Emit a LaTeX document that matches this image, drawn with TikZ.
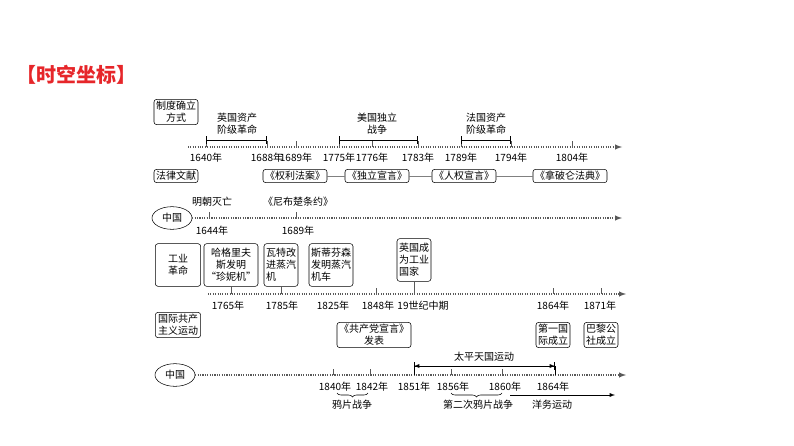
\documentclass[tikz,border=0pt]{standalone}
\usepackage{fontspec}
\setmainfont{Noto Sans CJK SC}
\usetikzlibrary{arrows,calc,decorations.pathreplacing,shapes}

\definecolor{titlered}{RGB}{230,38,42}
\tikzset{
  lbox/.style={draw, rounded corners=2pt, align=center, inner sep=1.5pt, font=\fontsize{7.5}{9}\selectfont},
  txt/.style={align=center, inner sep=0pt, font=\fontsize{7.5}{9}\selectfont},
  yr/.style={inner sep=0pt, font=\fontsize{7.5}{9}\selectfont},
  tline/.style={densely dotted, thick, gray!70!black, -latex},
  tick/.style={gray!70!black}
}

\begin{document}
\begin{tikzpicture}[x=0.75pt, y=-0.75pt]
  \useasboundingbox (0,0) rectangle (794,446);
  \node[anchor=west, text=titlered, font=\bfseries\fontsize{15}{18}\selectfont] (title) at (12,75) {【时空坐标】};

  %% first block
  \node[lbox, minimum width=32pt] (zd) at (176,112) {制度确立\\方式};
  \coordinate (l1s) at (188,147); \coordinate (l1e) at (622,147);
  \draw[tline] (l1s) -- (l1e);
  \foreach \x/\y in {206/1640,267/1688,296/1689,339/1775,372/1776,418/1783,461/1789,511/1794,572/1804}
  {
    \coordinate (t\y) at (\x,147);
    \draw[tick] (t\y) -- ++(0,-6);
    \node[yr] (y\y) at (\x,158) {\y 年};
  }
  \draw[|-|] ($(t1640)+(0,-7)$) -- ($(t1688)+(0,-7)$);
  \draw[|-|] ($(t1775)+(0,-7)$) -- ($(t1783)+(0,-7)$);
  \draw[|-|] ($(t1789)+(0,-7)$) -- ($(t1794)+(0,-7)$);
  \node[txt] (yg) at (237,124) {英国资产\\阶级革命};
  \node[txt] (mg) at (377,124) {美国独立\\战争};
  \node[txt] (fg) at (486,124) {法国资产\\阶级革命};

  \node[lbox, minimum width=32pt] (fl) at (176,176) {法律文献};
  \node[lbox] (ql) at (295,176) {《权利法案》};
  \node[lbox] (dl) at (377,176) {《独立宣言》};
  \node[lbox] (rq) at (464,176) {《人权宣言》};
  \node[lbox] (np) at (570,176) {《拿破仑法典》};
  \draw[gray] (ql) -- (dl) (dl) -- (rq) (rq) -- (np);

  \node[draw, ellipse, minimum width=30pt, minimum height=17pt, inner sep=0pt, font=\fontsize{7.5}{9}\selectfont] (zg1) at (172,218) {中国};
  \draw[tline] (zg1) -- (622,218);
  \coordinate (m1644) at (209,218); \coordinate (m1689) at (296,218);
  \draw[tick] (m1644) -- ++(0,-6) (m1689) -- ++(0,-6);
  \node[txt] (mm) at (212,202) {明朝灭亡};
  \node[txt] (nb) at (298,202) {《尼布楚条约》};
  \node[yr] (c1644) at (212,231) {1644年};
  \node[yr] (c1689) at (298,231) {1689年};

  %% second block
  \node[lbox, minimum width=34pt, minimum height=32pt] (gy) at (178,265) {工业\\革命};
  \node[lbox, minimum height=32pt] (jn) at (231,265) {哈格里夫\\斯发明\\“珍妮机”};
  \node[lbox, minimum height=32pt] (wt) at (281,265) {瓦特改\\进蒸汽\\机\hphantom{汽汽}};
  \node[lbox, minimum height=32pt] (sd) at (331,265) {斯蒂芬森\\发明蒸汽\\机车\hphantom{汽汽}};
  \node[lbox, minimum height=32pt] (yc) at (414,260) {英国成\\为工业\\国家\hphantom{汽}};
  \coordinate (l2s) at (208,294); \coordinate (l2e) at (626,294);
  \draw[tline] (l2s) -- (l2e);
  \foreach \x/\y/\t in {228/1765/1765年,282/1785/1785年,333/1825/1825年,378/1848/1848年,423/19/19世纪中期,553/1864/1864年,600/1871/1871年}
    \node[yr] (s\y) at (\x,306) {\t};
  \draw[tick] (jn.south) -- (jn.south |- l2s);
  \draw[tick] (wt.south) -- (wt.south |- l2s);
  \draw[tick] (yc.south) -- (yc.south |- l2s);
  \draw[tick] (376,294) -- ++(0,-6) (553,294) -- ++(0,-6) (601,294) -- ++(0,-6);

  \node[lbox, minimum width=34pt] (gj) at (178,325) {国际共产\\主义运动};
  \node[lbox, minimum width=46pt] (gc) at (374,335) {《共产党宣言》\\发表};
  \node[lbox] (dy) at (553,335) {第一国\\际成立};
  \node[lbox] (bl) at (601,335) {巴黎公\\社成立};

  \node[draw, ellipse, minimum width=30pt, minimum height=17pt, inner sep=0pt, font=\fontsize{7.5}{9}\selectfont] (zg2) at (175,375) {中国};
  \draw[tline] (zg2) -- (626,375);
  \foreach \x/\y in {333/1840,370/1842,451/1856,502/1860}
  {
    \coordinate (k\y) at (\x,375);
    \draw[tick] (k\y) -- ++(0,-6);
  }
  \coordinate (k1851) at (414,366); \coordinate (k1864) at (555,366);
  \draw[|-|, >=latex] (k1851) -- (k1864);
  \draw[latex-latex] (k1851) -- (k1864);
  \draw (k1851) -- ++(0,9) (k1864) -- ++(0,9);
  \node[txt] (tp) at (484,357) {太平天国运动};
  \foreach \x/\t in {335/1840年,372/1842年,414/1851年,453/1856年,505/1860年,553/1864年}
    \node[yr] at (\x,387) {\t};
  \draw[decorate, decoration={brace, mirror, amplitude=3pt}] (337,393) -- (368,393);
  \draw[decorate, decoration={brace, mirror, amplitude=3pt}] (451,393) -- (502,393);
  \node[txt] (yp) at (352,405) {鸦片战争};
  \node[txt] (de) at (478,405) {第二次鸦片战争};
  \coordinate (ys) at (510,395); \coordinate (ye) at (615,395);
  \draw[-latex] (ys) -- (ye);
  \node[txt] (yw) at (552,405) {洋务运动};
\end{tikzpicture}
\end{document}
